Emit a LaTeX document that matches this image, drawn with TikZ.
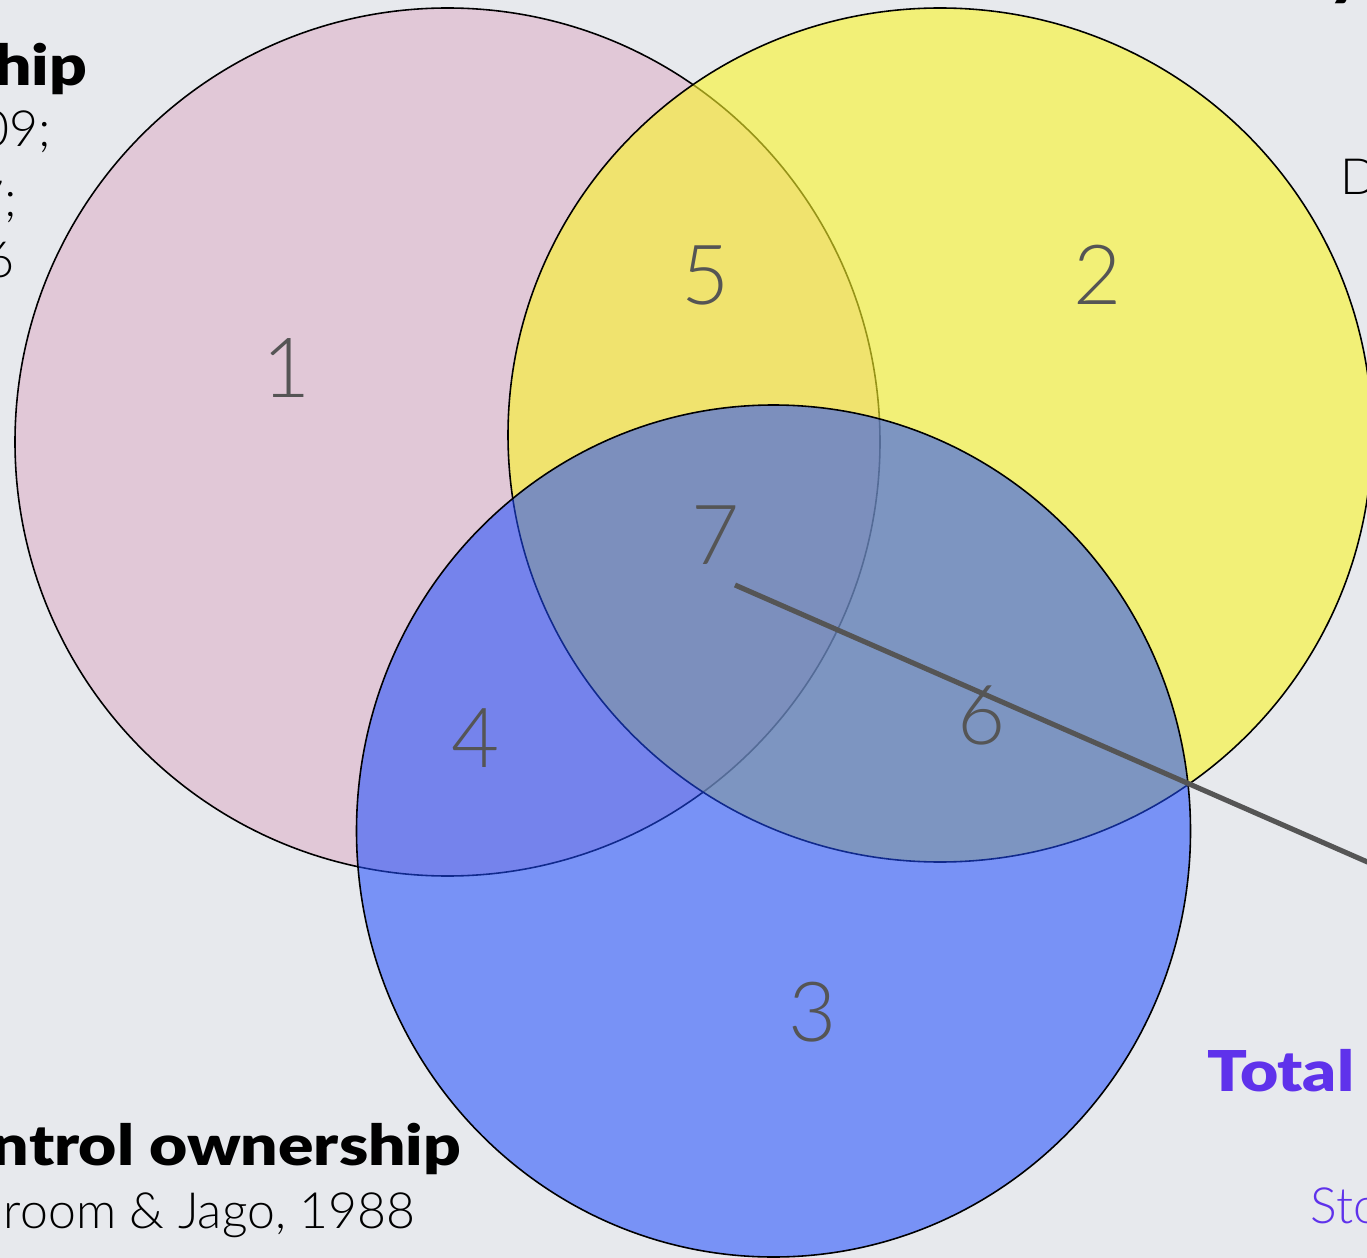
\documentclass[tikz,border=0pt]{standalone}
\usepackage{fontspec}
\setmainfont{Lato}[UprightFont={* Light}, BoldFont={* Black}]
\newfontfamily\headfont{Lato}[UprightFont={* Black}, FakeStretch=1.17]
\definecolor{bgc}{RGB}{231,233,237}
\definecolor{pinkset}{RGB}{220,168,194}
\definecolor{yellowset}{RGB}{250,245,41}
\definecolor{blueset}{RGB}{30,75,255}
\definecolor{numgrey}{RGB}{85,85,85}
\definecolor{accent}{RGB}{95,50,235}
\tikzset{
  vennset/.style={draw=black, line width=0.45pt},
  regionnum/.style={inner sep=0pt, text=numgrey, font=\fontsize{23.6}{28}\selectfont},
  heading/.style={inner sep=0pt, font=\headfont\fontsize{16}{19}\selectfont},
  refline/.style={inner sep=0pt, font=\fontsize{14.2}{17}\selectfont},
  pointer/.style={draw=numgrey, line width=1.45pt}
}
\begin{document}
\begin{tikzpicture}[x=0.01cm, y=-0.01cm]
\useasboundingbox (0,0) rectangle (1367,1258);
\clip (0,0) rectangle (1367,1258);
\fill[bgc] (0,0) rectangle (1367,1258);

% the three overlapping sets
\path[vennset, fill=pinkset, fill opacity=0.5] (447.5,442) ellipse[x radius=432.5, y radius=434];
\path[vennset, fill=yellowset, fill opacity=0.6] (940,435) ellipse[x radius=432, y radius=427];
\path[vennset, fill=blueset, fill opacity=0.55] (773.5,831) ellipse[x radius=417, y radius=426];

% region numbers
\node[regionnum] (r1) at (287,368) {1};
\node[regionnum] (r5) at (706,275) {5};
\node[regionnum] (r2) at (1098,275) {2};
\node[regionnum] (r7) at (716,535) {7};
\node[regionnum] (r4) at (476,738) {4};
\node[regionnum] (r6) at (982,715) {6};
\node[regionnum] (r3) at (813,1012) {3};

% pointer leaving the centre region
\coordinate (ptrA) at (735,585);
\coordinate (ptrB) at (1420,885);
\draw[pointer] (ptrA) -- (ptrB);

% labels around the diagram
\node[heading, anchor=base east] (lblA) at (88,86) {hip};
\node[refline, anchor=base east] (refA1) at (52,147) {09;};
\node[refline, anchor=base east] (refA2) at (18,217) {7;};
\node[refline, anchor=base east] (refA3) at (15,278) {6};

\node[heading, anchor=base west] (lblB) at (1328,-5) {y};
\node[refline, anchor=base west] (refB1) at (1340,195) {D};

\node[heading, anchor=base east] (lblC) at (462,1165) {ntrol ownership};
\node[refline, anchor=base east] (refC1) at (416,1228) {room \& Jago, 1988};

\node[heading, anchor=base west, text=accent] (lblD) at (1207,1091) {Total};
\node[refline, anchor=base west, text=accent] (refD1) at (1310,1223) {Sto};
\end{tikzpicture}
\end{document}
